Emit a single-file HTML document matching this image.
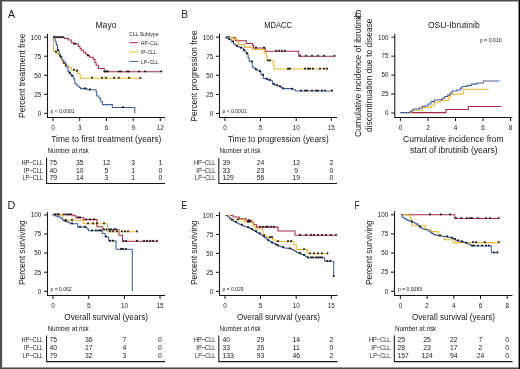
<!DOCTYPE html>
<html><head><meta charset="utf-8"><style>
html,body{margin:0;padding:0;background:#fff;}
body{width:520px;height:369px;overflow:hidden;}
svg{display:block;will-change:transform;font-family:"Liberation Sans", sans-serif;}
</style></head><body>
<svg width="520" height="369" viewBox="0 0 520 369" font-family='"Liberation Sans", sans-serif' fill="#1a1a1a">
<rect x="0" y="0" width="520" height="369" fill="#fff"/>
<text x="8" y="17.6" font-size="10.8" text-anchor="start" textLength="7" lengthAdjust="spacingAndGlyphs">A</text>
<text x="106" y="28.2" font-size="8.7" text-anchor="middle">Mayo</text>
<text x="0" y="0" font-size="8.2" text-anchor="middle" textLength="84.6" lengthAdjust="spacingAndGlyphs" transform="translate(24.7,75.7) rotate(-90)">Percent treatment free</text>
<path d="M47.5 33.8V117.5H165" fill="none" stroke="#161616" stroke-width="1.05"/>
<path d="M44.0 37.2H47.5" stroke="#111" stroke-width="1"/>
<text x="41.3" y="39.5" font-size="6.3" text-anchor="end">100</text>
<path d="M44.0 56.224999999999994H47.5" stroke="#111" stroke-width="1"/>
<text x="41.3" y="58.52499999999999" font-size="6.3" text-anchor="end">75</text>
<path d="M44.0 75.25H47.5" stroke="#111" stroke-width="1"/>
<text x="41.3" y="77.55" font-size="6.3" text-anchor="end">50</text>
<path d="M44.0 94.275H47.5" stroke="#111" stroke-width="1"/>
<text x="41.3" y="96.575" font-size="6.3" text-anchor="end">25</text>
<path d="M44.0 113.3H47.5" stroke="#111" stroke-width="1"/>
<text x="41.3" y="115.6" font-size="6.3" text-anchor="end">0</text>
<path d="M53 117.5V121.0" stroke="#111" stroke-width="1"/>
<text x="53" y="129.8" font-size="6.3" text-anchor="middle">0</text>
<path d="M79.7 117.5V121.0" stroke="#111" stroke-width="1"/>
<text x="79.7" y="129.8" font-size="6.3" text-anchor="middle">3</text>
<path d="M106.5 117.5V121.0" stroke="#111" stroke-width="1"/>
<text x="106.5" y="129.8" font-size="6.3" text-anchor="middle">6</text>
<path d="M133.2 117.5V121.0" stroke="#111" stroke-width="1"/>
<text x="133.2" y="129.8" font-size="6.3" text-anchor="middle">9</text>
<path d="M160.3 117.5V121.0" stroke="#111" stroke-width="1"/>
<text x="160.3" y="129.8" font-size="6.3" text-anchor="middle">12</text>
<text x="51.3" y="142.1" font-size="8.5" text-anchor="start" textLength="110" lengthAdjust="spacingAndGlyphs">Time to first treatment (years)</text>
<text x="47.5" y="153" font-size="6.6" text-anchor="start" textLength="41.3" lengthAdjust="spacingAndGlyphs">Number at risk</text>
<path d="M46.6 157.8V183.5H165" fill="none" stroke="#161616" stroke-width="1.05"/>
<text x="43" y="164.60000000000002" font-size="7.0" text-anchor="end" textLength="21.6" lengthAdjust="spacingAndGlyphs">HP−CLL</text>
<text x="49.5" y="164.60000000000002" font-size="6.8" text-anchor="start">75</text>
<text x="79.7" y="164.60000000000002" font-size="6.8" text-anchor="middle">35</text>
<text x="106.5" y="164.60000000000002" font-size="6.8" text-anchor="middle">12</text>
<text x="133.2" y="164.60000000000002" font-size="6.8" text-anchor="middle">3</text>
<text x="160.3" y="164.60000000000002" font-size="6.8" text-anchor="middle">1</text>
<text x="43" y="172.60000000000002" font-size="7.0" text-anchor="end" textLength="19.2" lengthAdjust="spacingAndGlyphs">IP−CLL</text>
<text x="49.5" y="172.60000000000002" font-size="6.8" text-anchor="start">40</text>
<text x="79.7" y="172.60000000000002" font-size="6.8" text-anchor="middle">10</text>
<text x="106.5" y="172.60000000000002" font-size="6.8" text-anchor="middle">5</text>
<text x="133.2" y="172.60000000000002" font-size="6.8" text-anchor="middle">1</text>
<text x="160.3" y="172.60000000000002" font-size="6.8" text-anchor="middle">0</text>
<text x="43" y="180.20000000000002" font-size="7.0" text-anchor="end" textLength="20.4" lengthAdjust="spacingAndGlyphs">LP−CLL</text>
<text x="49.5" y="180.20000000000002" font-size="6.8" text-anchor="start">79</text>
<text x="79.7" y="180.20000000000002" font-size="6.8" text-anchor="middle">14</text>
<text x="106.5" y="180.20000000000002" font-size="6.8" text-anchor="middle">3</text>
<text x="133.2" y="180.20000000000002" font-size="6.8" text-anchor="middle">1</text>
<text x="160.3" y="180.20000000000002" font-size="6.8" text-anchor="middle">0</text>
<text x="50.6" y="112.6" font-size="5.3" text-anchor="start" textLength="24" lengthAdjust="spacingAndGlyphs">p &lt; 0.0001</text>
<text x="129" y="36.2" font-size="5.6" text-anchor="start" textLength="29.5" lengthAdjust="spacingAndGlyphs">CLL Subtype</text>
<path d="M129.2 42.7H138.2" stroke="#a82a44" stroke-width="1.0"/>
<text x="141" y="44.900000000000006" font-size="6.0" text-anchor="start" textLength="18" lengthAdjust="spacingAndGlyphs">HP−CLL</text>
<path d="M129.2 52H138.2" stroke="#f0b530" stroke-width="1.0"/>
<text x="141" y="54.2" font-size="6.0" text-anchor="start" textLength="15.4" lengthAdjust="spacingAndGlyphs">IP−CLL</text>
<path d="M129.2 61.4H138.2" stroke="#41609a" stroke-width="1.0"/>
<text x="141" y="63.6" font-size="6.0" text-anchor="start" textLength="17.5" lengthAdjust="spacingAndGlyphs">LP−CLL</text>
<path d="M53 37.4H64.4V38.5H68.5V39.9H71.3V42.8H73.6V44H78.3V46.5H80V48.5H81.1V50.3H83.5V52.3H85.8V54.3H87.8V55.8H89.8V57.2H93.3V59.5H95V62.5H96.1V65.3H98.4V68.5H104.2V71.8H161.2" fill="none" stroke="#a82a44" stroke-width="1.05"/>
<path d="M55 35.9V38.199999999999996" stroke="#1a1a1a" stroke-width="0.8"/><path d="M54 37.0H56" stroke="#1a1a1a" stroke-width="1.1"/>
<path d="M57 35.9V38.199999999999996" stroke="#1a1a1a" stroke-width="0.8"/><path d="M56 37.0H58" stroke="#1a1a1a" stroke-width="1.1"/>
<path d="M59 35.9V38.199999999999996" stroke="#1a1a1a" stroke-width="0.8"/><path d="M58 37.0H60" stroke="#1a1a1a" stroke-width="1.1"/>
<path d="M61 35.9V38.199999999999996" stroke="#1a1a1a" stroke-width="0.8"/><path d="M60 37.0H62" stroke="#1a1a1a" stroke-width="1.1"/>
<path d="M63 35.9V38.199999999999996" stroke="#1a1a1a" stroke-width="0.8"/><path d="M62 37.0H64" stroke="#1a1a1a" stroke-width="1.1"/>
<path d="M75 42.5V44.8" stroke="#1a1a1a" stroke-width="0.8"/><path d="M74 43.6H76" stroke="#1a1a1a" stroke-width="1.1"/>
<path d="M88 54.3V56.599999999999994" stroke="#1a1a1a" stroke-width="0.8"/><path d="M87 55.4H89" stroke="#1a1a1a" stroke-width="1.1"/>
<path d="M104.5 70.3V72.6" stroke="#1a1a1a" stroke-width="0.8"/><path d="M103.5 71.39999999999999H105.5" stroke="#1a1a1a" stroke-width="1.1"/>
<path d="M106 70.3V72.6" stroke="#1a1a1a" stroke-width="0.8"/><path d="M105 71.39999999999999H107" stroke="#1a1a1a" stroke-width="1.1"/>
<path d="M108 70.3V72.6" stroke="#1a1a1a" stroke-width="0.8"/><path d="M107 71.39999999999999H109" stroke="#1a1a1a" stroke-width="1.1"/>
<path d="M118.8 70.3V72.6" stroke="#1a1a1a" stroke-width="0.8"/><path d="M117.8 71.39999999999999H119.8" stroke="#1a1a1a" stroke-width="1.1"/>
<path d="M120.9 70.3V72.6" stroke="#1a1a1a" stroke-width="0.8"/><path d="M119.9 71.39999999999999H121.9" stroke="#1a1a1a" stroke-width="1.1"/>
<path d="M126.9 70.3V72.6" stroke="#1a1a1a" stroke-width="0.8"/><path d="M125.9 71.39999999999999H127.9" stroke="#1a1a1a" stroke-width="1.1"/>
<path d="M128.9 70.3V72.6" stroke="#1a1a1a" stroke-width="0.8"/><path d="M127.9 71.39999999999999H129.9" stroke="#1a1a1a" stroke-width="1.1"/>
<path d="M139 70.3V72.6" stroke="#1a1a1a" stroke-width="0.8"/><path d="M138 71.39999999999999H140" stroke="#1a1a1a" stroke-width="1.1"/>
<path d="M145.1 70.3V72.6" stroke="#1a1a1a" stroke-width="0.8"/><path d="M144.1 71.39999999999999H146.1" stroke="#1a1a1a" stroke-width="1.1"/>
<path d="M161.2 70.3V72.6" stroke="#1a1a1a" stroke-width="0.8"/><path d="M160.2 71.39999999999999H162.2" stroke="#1a1a1a" stroke-width="1.1"/>
<path d="M53 37.4H53.5V51H55.2V52H57.2V54H59.2V56H61V59.5H62.7V63H65V65.5H68.5V67.3H71.3V70.2H75.4V71H77.7V73.7H80.2V78.2H140.4" fill="none" stroke="#f0b530" stroke-width="1.05"/>
<path d="M56 50.5V52.8" stroke="#1a1a1a" stroke-width="0.8"/><path d="M55 51.6H57" stroke="#1a1a1a" stroke-width="1.1"/>
<path d="M60 54.5V56.8" stroke="#1a1a1a" stroke-width="0.8"/><path d="M59 55.6H61" stroke="#1a1a1a" stroke-width="1.1"/>
<path d="M66 64.0V66.3" stroke="#1a1a1a" stroke-width="0.8"/><path d="M65 65.1H67" stroke="#1a1a1a" stroke-width="1.1"/>
<path d="M74 68.7V71.0" stroke="#1a1a1a" stroke-width="0.8"/><path d="M73 69.8H75" stroke="#1a1a1a" stroke-width="1.1"/>
<path d="M77 69.5V71.8" stroke="#1a1a1a" stroke-width="0.8"/><path d="M76 70.6H78" stroke="#1a1a1a" stroke-width="1.1"/>
<path d="M92 76.7V79.0" stroke="#1a1a1a" stroke-width="0.8"/><path d="M91 77.8H93" stroke="#1a1a1a" stroke-width="1.1"/>
<path d="M102 76.7V79.0" stroke="#1a1a1a" stroke-width="0.8"/><path d="M101 77.8H103" stroke="#1a1a1a" stroke-width="1.1"/>
<path d="M106 76.7V79.0" stroke="#1a1a1a" stroke-width="0.8"/><path d="M105 77.8H107" stroke="#1a1a1a" stroke-width="1.1"/>
<path d="M114.1 76.7V79.0" stroke="#1a1a1a" stroke-width="0.8"/><path d="M113.1 77.8H115.1" stroke="#1a1a1a" stroke-width="1.1"/>
<path d="M118.8 76.7V79.0" stroke="#1a1a1a" stroke-width="0.8"/><path d="M117.8 77.8H119.8" stroke="#1a1a1a" stroke-width="1.1"/>
<path d="M128.9 76.7V79.0" stroke="#1a1a1a" stroke-width="0.8"/><path d="M127.9 77.8H129.9" stroke="#1a1a1a" stroke-width="1.1"/>
<path d="M140.4 76.7V79.0" stroke="#1a1a1a" stroke-width="0.8"/><path d="M139.4 77.8H141.4" stroke="#1a1a1a" stroke-width="1.1"/>
<path d="M53 37.4H55.2V41.7H56.3V45.1H57.5V50.3H59.0V54.0H60.4V57.2H62.0V60.0H63.8V63.0H66.0V67.0H67.9V71.1H69.0V73.1H70.45V74.55H71.9V76.0H73.6V78.8H74.8V83.5H76.25V84.9H77.7V86.3H79.15V87.45H80.6V88.6H86.9V89.8H96.1V92H96.7V96H99V98.3H100.8V101.7H102.5V104.6H112.3V107.5H134.8V113.3H134.8" fill="none" stroke="#41609a" stroke-width="1.05"/>
<path d="M54 35.9V38.199999999999996" stroke="#1a1a1a" stroke-width="0.8"/><path d="M53 37.0H55" stroke="#1a1a1a" stroke-width="1.1"/>
<path d="M58 48.8V51.099999999999994" stroke="#1a1a1a" stroke-width="0.8"/><path d="M57 49.9H59" stroke="#1a1a1a" stroke-width="1.1"/>
<path d="M61 55.7V58.0" stroke="#1a1a1a" stroke-width="0.8"/><path d="M60 56.800000000000004H62" stroke="#1a1a1a" stroke-width="1.1"/>
<path d="M64 61.5V63.8" stroke="#1a1a1a" stroke-width="0.8"/><path d="M63 62.6H65" stroke="#1a1a1a" stroke-width="1.1"/>
<path d="M70 71.6V73.89999999999999" stroke="#1a1a1a" stroke-width="0.8"/><path d="M69 72.69999999999999H71" stroke="#1a1a1a" stroke-width="1.1"/>
<path d="M72 74.5V76.8" stroke="#1a1a1a" stroke-width="0.8"/><path d="M71 75.6H73" stroke="#1a1a1a" stroke-width="1.1"/>
<path d="M85 87.1V89.39999999999999" stroke="#1a1a1a" stroke-width="0.8"/><path d="M84 88.19999999999999H86" stroke="#1a1a1a" stroke-width="1.1"/>
<path d="M90 88.3V90.6" stroke="#1a1a1a" stroke-width="0.8"/><path d="M89 89.39999999999999H91" stroke="#1a1a1a" stroke-width="1.1"/>
<path d="M123 106.0V108.3" stroke="#1a1a1a" stroke-width="0.8"/><path d="M122 107.1H124" stroke="#1a1a1a" stroke-width="1.1"/>
<text x="181.3" y="17.8" font-size="10.8" text-anchor="start" textLength="6.8" lengthAdjust="spacingAndGlyphs">B</text>
<text x="278.1" y="28.0" font-size="8.7" text-anchor="middle" textLength="27.7" lengthAdjust="spacingAndGlyphs">MDACC</text>
<text x="0" y="0" font-size="8.2" text-anchor="middle" textLength="91" lengthAdjust="spacingAndGlyphs" transform="translate(197,76) rotate(-90)">Percent progression free</text>
<path d="M219.5 33.8V117.5H337" fill="none" stroke="#161616" stroke-width="1.05"/>
<path d="M216.0 37.2H219.5" stroke="#111" stroke-width="1"/>
<text x="213.3" y="39.5" font-size="6.3" text-anchor="end">100</text>
<path d="M216.0 56.275H219.5" stroke="#111" stroke-width="1"/>
<text x="213.3" y="58.574999999999996" font-size="6.3" text-anchor="end">75</text>
<path d="M216.0 75.35H219.5" stroke="#111" stroke-width="1"/>
<text x="213.3" y="77.64999999999999" font-size="6.3" text-anchor="end">50</text>
<path d="M216.0 94.425H219.5" stroke="#111" stroke-width="1"/>
<text x="213.3" y="96.725" font-size="6.3" text-anchor="end">25</text>
<path d="M216.0 113.5H219.5" stroke="#111" stroke-width="1"/>
<text x="213.3" y="115.8" font-size="6.3" text-anchor="end">0</text>
<path d="M225 117.5V121.0" stroke="#111" stroke-width="1"/>
<text x="225" y="129.8" font-size="6.3" text-anchor="middle">0</text>
<path d="M260.5 117.5V121.0" stroke="#111" stroke-width="1"/>
<text x="260.5" y="129.8" font-size="6.3" text-anchor="middle">5</text>
<path d="M296.2 117.5V121.0" stroke="#111" stroke-width="1"/>
<text x="296.2" y="129.8" font-size="6.3" text-anchor="middle">10</text>
<path d="M331.3 117.5V121.0" stroke="#111" stroke-width="1"/>
<text x="331.3" y="129.8" font-size="6.3" text-anchor="middle">15</text>
<text x="228" y="142.1" font-size="8.5" text-anchor="start" textLength="100.7" lengthAdjust="spacingAndGlyphs">Time to progression (years)</text>
<text x="219.5" y="153" font-size="6.6" text-anchor="start" textLength="41.3" lengthAdjust="spacingAndGlyphs">Number at risk</text>
<path d="M218.8 157.8V183.5H337" fill="none" stroke="#161616" stroke-width="1.05"/>
<text x="215.5" y="164.60000000000002" font-size="7.0" text-anchor="end" textLength="21.6" lengthAdjust="spacingAndGlyphs">HP−CLL</text>
<text x="222.5" y="164.60000000000002" font-size="6.8" text-anchor="start">39</text>
<text x="260.5" y="164.60000000000002" font-size="6.8" text-anchor="middle">24</text>
<text x="296.2" y="164.60000000000002" font-size="6.8" text-anchor="middle">12</text>
<text x="331.3" y="164.60000000000002" font-size="6.8" text-anchor="middle">2</text>
<text x="215.5" y="172.60000000000002" font-size="7.0" text-anchor="end" textLength="19.2" lengthAdjust="spacingAndGlyphs">IP−CLL</text>
<text x="222.5" y="172.60000000000002" font-size="6.8" text-anchor="start">33</text>
<text x="260.5" y="172.60000000000002" font-size="6.8" text-anchor="middle">23</text>
<text x="296.2" y="172.60000000000002" font-size="6.8" text-anchor="middle">9</text>
<text x="331.3" y="172.60000000000002" font-size="6.8" text-anchor="middle">0</text>
<text x="215.5" y="180.20000000000002" font-size="7.0" text-anchor="end" textLength="20.4" lengthAdjust="spacingAndGlyphs">LP−CLL</text>
<text x="222.5" y="180.20000000000002" font-size="6.8" text-anchor="start">129</text>
<text x="260.5" y="180.20000000000002" font-size="6.8" text-anchor="middle">56</text>
<text x="296.2" y="180.20000000000002" font-size="6.8" text-anchor="middle">19</text>
<text x="331.3" y="180.20000000000002" font-size="6.8" text-anchor="middle">0</text>
<text x="222.5" y="112.6" font-size="5.3" text-anchor="start" textLength="24" lengthAdjust="spacingAndGlyphs">p &lt; 0.0001</text>
<path d="M224.9 37.4H235.3V40.8H246.2V43.4H252.6V45.5H253.7V48H265.3V51.2H298.75V56.2H334.5" fill="none" stroke="#a82a44" stroke-width="1.05"/>
<path d="M227 35.9V38.199999999999996" stroke="#1a1a1a" stroke-width="0.8"/><path d="M226 37.0H228" stroke="#1a1a1a" stroke-width="1.1"/>
<path d="M229 35.9V38.199999999999996" stroke="#1a1a1a" stroke-width="0.8"/><path d="M228 37.0H230" stroke="#1a1a1a" stroke-width="1.1"/>
<path d="M256 46.5V48.8" stroke="#1a1a1a" stroke-width="0.8"/><path d="M255 47.6H257" stroke="#1a1a1a" stroke-width="1.1"/>
<path d="M264 46.5V48.8" stroke="#1a1a1a" stroke-width="0.8"/><path d="M263 47.6H265" stroke="#1a1a1a" stroke-width="1.1"/>
<path d="M276 49.7V52.0" stroke="#1a1a1a" stroke-width="0.8"/><path d="M275 50.800000000000004H277" stroke="#1a1a1a" stroke-width="1.1"/>
<path d="M279 49.7V52.0" stroke="#1a1a1a" stroke-width="0.8"/><path d="M278 50.800000000000004H280" stroke="#1a1a1a" stroke-width="1.1"/>
<path d="M282 49.7V52.0" stroke="#1a1a1a" stroke-width="0.8"/><path d="M281 50.800000000000004H283" stroke="#1a1a1a" stroke-width="1.1"/>
<path d="M285 49.7V52.0" stroke="#1a1a1a" stroke-width="0.8"/><path d="M284 50.800000000000004H286" stroke="#1a1a1a" stroke-width="1.1"/>
<path d="M300 54.7V57.0" stroke="#1a1a1a" stroke-width="0.8"/><path d="M299 55.800000000000004H301" stroke="#1a1a1a" stroke-width="1.1"/>
<path d="M306 54.7V57.0" stroke="#1a1a1a" stroke-width="0.8"/><path d="M305 55.800000000000004H307" stroke="#1a1a1a" stroke-width="1.1"/>
<path d="M312 54.7V57.0" stroke="#1a1a1a" stroke-width="0.8"/><path d="M311 55.800000000000004H313" stroke="#1a1a1a" stroke-width="1.1"/>
<path d="M318 54.7V57.0" stroke="#1a1a1a" stroke-width="0.8"/><path d="M317 55.800000000000004H319" stroke="#1a1a1a" stroke-width="1.1"/>
<path d="M324 54.7V57.0" stroke="#1a1a1a" stroke-width="0.8"/><path d="M323 55.800000000000004H325" stroke="#1a1a1a" stroke-width="1.1"/>
<path d="M334.5 54.7V57.0" stroke="#1a1a1a" stroke-width="0.8"/><path d="M333.5 55.800000000000004H335.5" stroke="#1a1a1a" stroke-width="1.1"/>
<path d="M224.9 37.4H233V39.3H237.6V41.7H238.7V44.5H244.5V47.1H252.2V49.4H264.1V53.2H266.4V56H267V60.7H273.3V64.1H273.9V69H327" fill="none" stroke="#f0b530" stroke-width="1.05"/>
<path d="M268 59.2V61.5" stroke="#1a1a1a" stroke-width="0.8"/><path d="M267 60.300000000000004H269" stroke="#1a1a1a" stroke-width="1.1"/>
<path d="M270 59.2V61.5" stroke="#1a1a1a" stroke-width="0.8"/><path d="M269 60.300000000000004H271" stroke="#1a1a1a" stroke-width="1.1"/>
<path d="M288 67.5V69.8" stroke="#1a1a1a" stroke-width="0.8"/><path d="M287 68.6H289" stroke="#1a1a1a" stroke-width="1.1"/>
<path d="M290 67.5V69.8" stroke="#1a1a1a" stroke-width="0.8"/><path d="M289 68.6H291" stroke="#1a1a1a" stroke-width="1.1"/>
<path d="M305 67.5V69.8" stroke="#1a1a1a" stroke-width="0.8"/><path d="M304 68.6H306" stroke="#1a1a1a" stroke-width="1.1"/>
<path d="M308 67.5V69.8" stroke="#1a1a1a" stroke-width="0.8"/><path d="M307 68.6H309" stroke="#1a1a1a" stroke-width="1.1"/>
<path d="M310 67.5V69.8" stroke="#1a1a1a" stroke-width="0.8"/><path d="M309 68.6H311" stroke="#1a1a1a" stroke-width="1.1"/>
<path d="M313 67.5V69.8" stroke="#1a1a1a" stroke-width="0.8"/><path d="M312 68.6H314" stroke="#1a1a1a" stroke-width="1.1"/>
<path d="M320 67.5V69.8" stroke="#1a1a1a" stroke-width="0.8"/><path d="M319 68.6H321" stroke="#1a1a1a" stroke-width="1.1"/>
<path d="M324 67.5V69.8" stroke="#1a1a1a" stroke-width="0.8"/><path d="M323 68.6H325" stroke="#1a1a1a" stroke-width="1.1"/>
<path d="M327 67.5V69.8" stroke="#1a1a1a" stroke-width="0.8"/><path d="M326 68.6H328" stroke="#1a1a1a" stroke-width="1.1"/>
<path d="M224.9 37.4H226.9V38.35H228.9V39.3H231.2V41.7H233.5V44.0H235.25V45.15H237.0V46.3H239.0V47.15H241.0V48.0H243.3V50.3H245.05V52.05H246.8V53.8H248.0V57.8H249.1V61.3H250.6V61.7H252.3V66.9H254.05V68.35H255.8V69.8H257.8V70.65H259.8V71.5H261.0V75.0H263.3V78.5H265.3V79.05H267.3V79.6H268.75V80.2H270.2V80.8H272.5V84.2H274.25V84.8H276.0V85.4H277.7V85.95H279.4V86.5H280.85V87.55H282.3V88.6H291.5V89H293.3V89.8H295.6V90.9H332" fill="none" stroke="#41609a" stroke-width="1.05"/>
<path d="M229 37.8V40.099999999999994" stroke="#1a1a1a" stroke-width="0.8"/><path d="M228 38.9H230" stroke="#1a1a1a" stroke-width="1.1"/>
<path d="M233 40.2V42.5" stroke="#1a1a1a" stroke-width="0.8"/><path d="M232 41.300000000000004H234" stroke="#1a1a1a" stroke-width="1.1"/>
<path d="M237 44.8V47.099999999999994" stroke="#1a1a1a" stroke-width="0.8"/><path d="M236 45.9H238" stroke="#1a1a1a" stroke-width="1.1"/>
<path d="M241 46.5V48.8" stroke="#1a1a1a" stroke-width="0.8"/><path d="M240 47.6H242" stroke="#1a1a1a" stroke-width="1.1"/>
<path d="M244 48.8V51.099999999999994" stroke="#1a1a1a" stroke-width="0.8"/><path d="M243 49.9H245" stroke="#1a1a1a" stroke-width="1.1"/>
<path d="M247 52.3V54.599999999999994" stroke="#1a1a1a" stroke-width="0.8"/><path d="M246 53.4H248" stroke="#1a1a1a" stroke-width="1.1"/>
<path d="M252 60.2V62.5" stroke="#1a1a1a" stroke-width="0.8"/><path d="M251 61.300000000000004H253" stroke="#1a1a1a" stroke-width="1.1"/>
<path d="M256 68.3V70.6" stroke="#1a1a1a" stroke-width="0.8"/><path d="M255 69.39999999999999H257" stroke="#1a1a1a" stroke-width="1.1"/>
<path d="M260 70.0V72.3" stroke="#1a1a1a" stroke-width="0.8"/><path d="M259 71.1H261" stroke="#1a1a1a" stroke-width="1.1"/>
<path d="M263 73.5V75.8" stroke="#1a1a1a" stroke-width="0.8"/><path d="M262 74.6H264" stroke="#1a1a1a" stroke-width="1.1"/>
<path d="M267 77.55V79.85" stroke="#1a1a1a" stroke-width="0.8"/><path d="M266 78.64999999999999H268" stroke="#1a1a1a" stroke-width="1.1"/>
<path d="M270 78.7V81.0" stroke="#1a1a1a" stroke-width="0.8"/><path d="M269 79.8H271" stroke="#1a1a1a" stroke-width="1.1"/>
<path d="M274 82.7V85.0" stroke="#1a1a1a" stroke-width="0.8"/><path d="M273 83.8H275" stroke="#1a1a1a" stroke-width="1.1"/>
<path d="M277 83.9V86.2" stroke="#1a1a1a" stroke-width="0.8"/><path d="M276 85.0H278" stroke="#1a1a1a" stroke-width="1.1"/>
<path d="M280 85.0V87.3" stroke="#1a1a1a" stroke-width="0.8"/><path d="M279 86.1H281" stroke="#1a1a1a" stroke-width="1.1"/>
<path d="M283 87.1V89.39999999999999" stroke="#1a1a1a" stroke-width="0.8"/><path d="M282 88.19999999999999H284" stroke="#1a1a1a" stroke-width="1.1"/>
<path d="M292 87.5V89.8" stroke="#1a1a1a" stroke-width="0.8"/><path d="M291 88.6H293" stroke="#1a1a1a" stroke-width="1.1"/>
<path d="M301 89.4V91.7" stroke="#1a1a1a" stroke-width="0.8"/><path d="M300 90.5H302" stroke="#1a1a1a" stroke-width="1.1"/>
<path d="M305 89.4V91.7" stroke="#1a1a1a" stroke-width="0.8"/><path d="M304 90.5H306" stroke="#1a1a1a" stroke-width="1.1"/>
<path d="M307 89.4V91.7" stroke="#1a1a1a" stroke-width="0.8"/><path d="M306 90.5H308" stroke="#1a1a1a" stroke-width="1.1"/>
<path d="M312 89.4V91.7" stroke="#1a1a1a" stroke-width="0.8"/><path d="M311 90.5H313" stroke="#1a1a1a" stroke-width="1.1"/>
<path d="M316 89.4V91.7" stroke="#1a1a1a" stroke-width="0.8"/><path d="M315 90.5H317" stroke="#1a1a1a" stroke-width="1.1"/>
<path d="M318 89.4V91.7" stroke="#1a1a1a" stroke-width="0.8"/><path d="M317 90.5H319" stroke="#1a1a1a" stroke-width="1.1"/>
<path d="M322 89.4V91.7" stroke="#1a1a1a" stroke-width="0.8"/><path d="M321 90.5H323" stroke="#1a1a1a" stroke-width="1.1"/>
<path d="M325 89.4V91.7" stroke="#1a1a1a" stroke-width="0.8"/><path d="M324 90.5H326" stroke="#1a1a1a" stroke-width="1.1"/>
<path d="M332 89.4V91.7" stroke="#1a1a1a" stroke-width="0.8"/><path d="M331 90.5H333" stroke="#1a1a1a" stroke-width="1.1"/>
<text x="355" y="17.6" font-size="10.8" text-anchor="start" textLength="6.5" lengthAdjust="spacingAndGlyphs">C</text>
<text x="453.8" y="28.2" font-size="8.7" text-anchor="middle" textLength="51.7" lengthAdjust="spacingAndGlyphs">OSU-Ibrutinib</text>
<text x="0" y="0" font-size="8.2" text-anchor="middle" textLength="124.5" lengthAdjust="spacingAndGlyphs" transform="translate(361.3,74.8) rotate(-90)">Cumulative incidence of ibrutinib</text>
<text x="0" y="0" font-size="8.2" text-anchor="middle" textLength="113.5" lengthAdjust="spacingAndGlyphs" transform="translate(371.8,75.2) rotate(-90)">discontinuation due to disease</text>
<path d="M394.8 33.8V117.5H512.3" fill="none" stroke="#161616" stroke-width="1.05"/>
<path d="M391.3 37.2H394.8" stroke="#111" stroke-width="1"/>
<text x="388.6" y="39.5" font-size="6.3" text-anchor="end">100</text>
<path d="M391.3 56.15H394.8" stroke="#111" stroke-width="1"/>
<text x="388.6" y="58.449999999999996" font-size="6.3" text-anchor="end">75</text>
<path d="M391.3 75.1H394.8" stroke="#111" stroke-width="1"/>
<text x="388.6" y="77.39999999999999" font-size="6.3" text-anchor="end">50</text>
<path d="M391.3 94.05H394.8" stroke="#111" stroke-width="1"/>
<text x="388.6" y="96.35" font-size="6.3" text-anchor="end">25</text>
<path d="M391.3 113.0H394.8" stroke="#111" stroke-width="1"/>
<text x="388.6" y="115.3" font-size="6.3" text-anchor="end">0</text>
<path d="M400.4 117.5V121.0" stroke="#111" stroke-width="1"/>
<text x="400.4" y="129.8" font-size="6.3" text-anchor="middle">0</text>
<path d="M427.94 117.5V121.0" stroke="#111" stroke-width="1"/>
<text x="427.94" y="129.8" font-size="6.3" text-anchor="middle">2</text>
<path d="M455.47999999999996 117.5V121.0" stroke="#111" stroke-width="1"/>
<text x="455.47999999999996" y="129.8" font-size="6.3" text-anchor="middle">4</text>
<path d="M483.02 117.5V121.0" stroke="#111" stroke-width="1"/>
<text x="483.02" y="129.8" font-size="6.3" text-anchor="middle">6</text>
<path d="M510.55999999999995 117.5V121.0" stroke="#111" stroke-width="1"/>
<text x="510.55999999999995" y="129.8" font-size="6.3" text-anchor="middle">8</text>
<text x="453.4" y="141.8" font-size="8.5" text-anchor="middle" textLength="100.7" lengthAdjust="spacingAndGlyphs">Cumulative incidence from</text>
<text x="453.8" y="152.8" font-size="8.5" text-anchor="middle" textLength="87.5" lengthAdjust="spacingAndGlyphs">start of ibrutinib (years)</text>
<text x="480" y="42.3" font-size="5.3" text-anchor="start" textLength="21.7" lengthAdjust="spacingAndGlyphs">p = 0.010</text>
<path d="M400.3 112.6H412.4V110.3H422.8V107.4H430.9V105.7H434.3V102.2H440.1V100.5H448.7V97H450.5V94.1H463.3V89.3H488.6" fill="none" stroke="#f0b530" stroke-width="1.05"/>
<path d="M411.8 112.6H445.9V109.4H468.5V106.4H501.3" fill="none" stroke="#a82a44" stroke-width="1.05"/>
<path d="M400.3 112.6H409V112.6H410.1V110.9H413V108.9H419.3V108H422.2V106.3H425.7V105.7H428V104H430.9V101.6H434.3V99.9H439V99.7H442.4V98.2H444.7V96.5H447.6V95.1H449.9V93H452.2V91H456.9V89.9H460.4V88.1H462.1V86.4H466.7V85.6H471.3V84.1H477.1V83H483.4V81H499.6" fill="none" stroke="#41609a" stroke-width="1.05"/>
<text x="7.6" y="208.7" font-size="10.8" text-anchor="start" textLength="7.8" lengthAdjust="spacingAndGlyphs">D</text>
<text x="0" y="0" font-size="8.2" text-anchor="middle" textLength="64.7" lengthAdjust="spacingAndGlyphs" transform="translate(24.7,252.7) rotate(-90)">Percent surviving</text>
<path d="M47.5 212V295.4H165" fill="none" stroke="#161616" stroke-width="1.05"/>
<path d="M44.0 214.9H47.5" stroke="#111" stroke-width="1"/>
<text x="41.3" y="217.20000000000002" font-size="6.3" text-anchor="end">100</text>
<path d="M44.0 234.0H47.5" stroke="#111" stroke-width="1"/>
<text x="41.3" y="236.3" font-size="6.3" text-anchor="end">75</text>
<path d="M44.0 253.10000000000002H47.5" stroke="#111" stroke-width="1"/>
<text x="41.3" y="255.40000000000003" font-size="6.3" text-anchor="end">50</text>
<path d="M44.0 272.2H47.5" stroke="#111" stroke-width="1"/>
<text x="41.3" y="274.5" font-size="6.3" text-anchor="end">25</text>
<path d="M44.0 291.3H47.5" stroke="#111" stroke-width="1"/>
<text x="41.3" y="293.6" font-size="6.3" text-anchor="end">0</text>
<path d="M53 295.4V298.9" stroke="#111" stroke-width="1"/>
<text x="53" y="307.7" font-size="6.3" text-anchor="middle">0</text>
<path d="M88.7 295.4V298.9" stroke="#111" stroke-width="1"/>
<text x="88.7" y="307.7" font-size="6.3" text-anchor="middle">5</text>
<path d="M124.4 295.4V298.9" stroke="#111" stroke-width="1"/>
<text x="124.4" y="307.7" font-size="6.3" text-anchor="middle">10</text>
<path d="M160 295.4V298.9" stroke="#111" stroke-width="1"/>
<text x="160" y="307.7" font-size="6.3" text-anchor="middle">15</text>
<text x="64.3" y="319.8" font-size="8.5" text-anchor="start" textLength="83.7" lengthAdjust="spacingAndGlyphs">Overall survival (years)</text>
<text x="47.5" y="331" font-size="6.6" text-anchor="start" textLength="41.3" lengthAdjust="spacingAndGlyphs">Number at risk</text>
<path d="M46.6 335.6V361.6H165" fill="none" stroke="#161616" stroke-width="1.05"/>
<text x="43" y="342.40000000000003" font-size="7.0" text-anchor="end" textLength="21.6" lengthAdjust="spacingAndGlyphs">HP−CLL</text>
<text x="49.5" y="342.40000000000003" font-size="6.8" text-anchor="start">75</text>
<text x="88.7" y="342.40000000000003" font-size="6.8" text-anchor="middle">36</text>
<text x="124.4" y="342.40000000000003" font-size="6.8" text-anchor="middle">7</text>
<text x="160" y="342.40000000000003" font-size="6.8" text-anchor="middle">0</text>
<text x="43" y="350.40000000000003" font-size="7.0" text-anchor="end" textLength="19.2" lengthAdjust="spacingAndGlyphs">IP−CLL</text>
<text x="49.5" y="350.40000000000003" font-size="6.8" text-anchor="start">40</text>
<text x="88.7" y="350.40000000000003" font-size="6.8" text-anchor="middle">17</text>
<text x="124.4" y="350.40000000000003" font-size="6.8" text-anchor="middle">4</text>
<text x="160" y="350.40000000000003" font-size="6.8" text-anchor="middle">0</text>
<text x="43" y="358.0" font-size="7.0" text-anchor="end" textLength="20.4" lengthAdjust="spacingAndGlyphs">LP−CLL</text>
<text x="49.5" y="358.0" font-size="6.8" text-anchor="start">79</text>
<text x="88.7" y="358.0" font-size="6.8" text-anchor="middle">32</text>
<text x="124.4" y="358.0" font-size="6.8" text-anchor="middle">3</text>
<text x="160" y="358.0" font-size="6.8" text-anchor="middle">0</text>
<text x="50.6" y="290.9" font-size="5.3" text-anchor="start" textLength="21" lengthAdjust="spacingAndGlyphs">p = 0.062</text>
<path d="M52.3 214.8H73V215.8H75.9V217.7H83.6V219.6H97V226.8H102.8V229.7H119V235.2H122.5V241.3H157.1" fill="none" stroke="#a82a44" stroke-width="1.05"/>
<path d="M56 213.3V215.60000000000002" stroke="#1a1a1a" stroke-width="0.8"/><path d="M55 214.4H57" stroke="#1a1a1a" stroke-width="1.1"/>
<path d="M59 213.3V215.60000000000002" stroke="#1a1a1a" stroke-width="0.8"/><path d="M58 214.4H60" stroke="#1a1a1a" stroke-width="1.1"/>
<path d="M64 213.3V215.60000000000002" stroke="#1a1a1a" stroke-width="0.8"/><path d="M63 214.4H65" stroke="#1a1a1a" stroke-width="1.1"/>
<path d="M67 213.3V215.60000000000002" stroke="#1a1a1a" stroke-width="0.8"/><path d="M66 214.4H68" stroke="#1a1a1a" stroke-width="1.1"/>
<path d="M69 213.3V215.60000000000002" stroke="#1a1a1a" stroke-width="0.8"/><path d="M68 214.4H70" stroke="#1a1a1a" stroke-width="1.1"/>
<path d="M71 213.3V215.60000000000002" stroke="#1a1a1a" stroke-width="0.8"/><path d="M70 214.4H72" stroke="#1a1a1a" stroke-width="1.1"/>
<path d="M78 216.2V218.5" stroke="#1a1a1a" stroke-width="0.8"/><path d="M77 217.29999999999998H79" stroke="#1a1a1a" stroke-width="1.1"/>
<path d="M80 216.2V218.5" stroke="#1a1a1a" stroke-width="0.8"/><path d="M79 217.29999999999998H81" stroke="#1a1a1a" stroke-width="1.1"/>
<path d="M86 218.1V220.4" stroke="#1a1a1a" stroke-width="0.8"/><path d="M85 219.2H87" stroke="#1a1a1a" stroke-width="1.1"/>
<path d="M90 218.1V220.4" stroke="#1a1a1a" stroke-width="0.8"/><path d="M89 219.2H91" stroke="#1a1a1a" stroke-width="1.1"/>
<path d="M94 218.1V220.4" stroke="#1a1a1a" stroke-width="0.8"/><path d="M93 219.2H95" stroke="#1a1a1a" stroke-width="1.1"/>
<path d="M104 228.2V230.5" stroke="#1a1a1a" stroke-width="0.8"/><path d="M103 229.29999999999998H105" stroke="#1a1a1a" stroke-width="1.1"/>
<path d="M107 228.2V230.5" stroke="#1a1a1a" stroke-width="0.8"/><path d="M106 229.29999999999998H108" stroke="#1a1a1a" stroke-width="1.1"/>
<path d="M109 228.2V230.5" stroke="#1a1a1a" stroke-width="0.8"/><path d="M108 229.29999999999998H110" stroke="#1a1a1a" stroke-width="1.1"/>
<path d="M111 228.2V230.5" stroke="#1a1a1a" stroke-width="0.8"/><path d="M110 229.29999999999998H112" stroke="#1a1a1a" stroke-width="1.1"/>
<path d="M114 228.2V230.5" stroke="#1a1a1a" stroke-width="0.8"/><path d="M113 229.29999999999998H115" stroke="#1a1a1a" stroke-width="1.1"/>
<path d="M116 228.2V230.5" stroke="#1a1a1a" stroke-width="0.8"/><path d="M115 229.29999999999998H117" stroke="#1a1a1a" stroke-width="1.1"/>
<path d="M123.5 239.8V242.10000000000002" stroke="#1a1a1a" stroke-width="0.8"/><path d="M122.5 240.9H124.5" stroke="#1a1a1a" stroke-width="1.1"/>
<path d="M126 239.8V242.10000000000002" stroke="#1a1a1a" stroke-width="0.8"/><path d="M125 240.9H127" stroke="#1a1a1a" stroke-width="1.1"/>
<path d="M137 239.8V242.10000000000002" stroke="#1a1a1a" stroke-width="0.8"/><path d="M136 240.9H138" stroke="#1a1a1a" stroke-width="1.1"/>
<path d="M144 239.8V242.10000000000002" stroke="#1a1a1a" stroke-width="0.8"/><path d="M143 240.9H145" stroke="#1a1a1a" stroke-width="1.1"/>
<path d="M147 239.8V242.10000000000002" stroke="#1a1a1a" stroke-width="0.8"/><path d="M146 240.9H148" stroke="#1a1a1a" stroke-width="1.1"/>
<path d="M150 239.8V242.10000000000002" stroke="#1a1a1a" stroke-width="0.8"/><path d="M149 240.9H151" stroke="#1a1a1a" stroke-width="1.1"/>
<path d="M153 239.8V242.10000000000002" stroke="#1a1a1a" stroke-width="0.8"/><path d="M152 240.9H154" stroke="#1a1a1a" stroke-width="1.1"/>
<path d="M157.1 239.8V242.10000000000002" stroke="#1a1a1a" stroke-width="0.8"/><path d="M156.1 240.9H158.1" stroke="#1a1a1a" stroke-width="1.1"/>
<path d="M52.3 214.8H62.7V220.3H83.4V223.7H107.5V231.7H136.9" fill="none" stroke="#f0b530" stroke-width="1.05"/>
<path d="M55 213.3V215.60000000000002" stroke="#1a1a1a" stroke-width="0.8"/><path d="M54 214.4H56" stroke="#1a1a1a" stroke-width="1.1"/>
<path d="M58 213.3V215.60000000000002" stroke="#1a1a1a" stroke-width="0.8"/><path d="M57 214.4H59" stroke="#1a1a1a" stroke-width="1.1"/>
<path d="M66 218.8V221.10000000000002" stroke="#1a1a1a" stroke-width="0.8"/><path d="M65 219.9H67" stroke="#1a1a1a" stroke-width="1.1"/>
<path d="M72 218.8V221.10000000000002" stroke="#1a1a1a" stroke-width="0.8"/><path d="M71 219.9H73" stroke="#1a1a1a" stroke-width="1.1"/>
<path d="M88 222.2V224.5" stroke="#1a1a1a" stroke-width="0.8"/><path d="M87 223.29999999999998H89" stroke="#1a1a1a" stroke-width="1.1"/>
<path d="M93 222.2V224.5" stroke="#1a1a1a" stroke-width="0.8"/><path d="M92 223.29999999999998H94" stroke="#1a1a1a" stroke-width="1.1"/>
<path d="M97 222.2V224.5" stroke="#1a1a1a" stroke-width="0.8"/><path d="M96 223.29999999999998H98" stroke="#1a1a1a" stroke-width="1.1"/>
<path d="M104 222.2V224.5" stroke="#1a1a1a" stroke-width="0.8"/><path d="M103 223.29999999999998H105" stroke="#1a1a1a" stroke-width="1.1"/>
<path d="M110 230.2V232.5" stroke="#1a1a1a" stroke-width="0.8"/><path d="M109 231.29999999999998H111" stroke="#1a1a1a" stroke-width="1.1"/>
<path d="M113 230.2V232.5" stroke="#1a1a1a" stroke-width="0.8"/><path d="M112 231.29999999999998H114" stroke="#1a1a1a" stroke-width="1.1"/>
<path d="M117 230.2V232.5" stroke="#1a1a1a" stroke-width="0.8"/><path d="M116 231.29999999999998H118" stroke="#1a1a1a" stroke-width="1.1"/>
<path d="M122 230.2V232.5" stroke="#1a1a1a" stroke-width="0.8"/><path d="M121 231.29999999999998H123" stroke="#1a1a1a" stroke-width="1.1"/>
<path d="M125 230.2V232.5" stroke="#1a1a1a" stroke-width="0.8"/><path d="M124 231.29999999999998H126" stroke="#1a1a1a" stroke-width="1.1"/>
<path d="M128 230.2V232.5" stroke="#1a1a1a" stroke-width="0.8"/><path d="M127 231.29999999999998H129" stroke="#1a1a1a" stroke-width="1.1"/>
<path d="M136.9 230.2V232.5" stroke="#1a1a1a" stroke-width="0.8"/><path d="M135.9 231.29999999999998H137.9" stroke="#1a1a1a" stroke-width="1.1"/>
<path d="M52.3 214.8H54.6V215.8H56.13V216.27H57.67V216.73H59.2V217.2H60.95V218.8H62.7V220.4H64.23V220.97H65.77V221.53H67.3V222.1H69.05V222.95H70.8V223.8H77.7V227.1H86.9V229H88.6V230.8H102.3V233.5H105.2V236.9H108.7V241H116.1V249.3H132.3V291.3H132.3" fill="none" stroke="#41609a" stroke-width="1.05"/>
<path d="M65 219.47V221.77" stroke="#1a1a1a" stroke-width="0.8"/><path d="M64 220.57H66" stroke="#1a1a1a" stroke-width="1.1"/>
<path d="M72 222.3V224.60000000000002" stroke="#1a1a1a" stroke-width="0.8"/><path d="M71 223.4H73" stroke="#1a1a1a" stroke-width="1.1"/>
<path d="M80 225.6V227.9" stroke="#1a1a1a" stroke-width="0.8"/><path d="M79 226.7H81" stroke="#1a1a1a" stroke-width="1.1"/>
<path d="M85 225.6V227.9" stroke="#1a1a1a" stroke-width="0.8"/><path d="M84 226.7H86" stroke="#1a1a1a" stroke-width="1.1"/>
<path d="M92 229.3V231.60000000000002" stroke="#1a1a1a" stroke-width="0.8"/><path d="M91 230.4H93" stroke="#1a1a1a" stroke-width="1.1"/>
<path d="M96 229.3V231.60000000000002" stroke="#1a1a1a" stroke-width="0.8"/><path d="M95 230.4H97" stroke="#1a1a1a" stroke-width="1.1"/>
<path d="M99 229.3V231.60000000000002" stroke="#1a1a1a" stroke-width="0.8"/><path d="M98 230.4H100" stroke="#1a1a1a" stroke-width="1.1"/>
<path d="M101 229.3V231.60000000000002" stroke="#1a1a1a" stroke-width="0.8"/><path d="M100 230.4H102" stroke="#1a1a1a" stroke-width="1.1"/>
<path d="M106 235.4V237.70000000000002" stroke="#1a1a1a" stroke-width="0.8"/><path d="M105 236.5H107" stroke="#1a1a1a" stroke-width="1.1"/>
<path d="M110 239.5V241.8" stroke="#1a1a1a" stroke-width="0.8"/><path d="M109 240.6H111" stroke="#1a1a1a" stroke-width="1.1"/>
<path d="M113 239.5V241.8" stroke="#1a1a1a" stroke-width="0.8"/><path d="M112 240.6H114" stroke="#1a1a1a" stroke-width="1.1"/>
<path d="M121 247.8V250.10000000000002" stroke="#1a1a1a" stroke-width="0.8"/><path d="M120 248.9H122" stroke="#1a1a1a" stroke-width="1.1"/>
<path d="M123 247.8V250.10000000000002" stroke="#1a1a1a" stroke-width="0.8"/><path d="M122 248.9H124" stroke="#1a1a1a" stroke-width="1.1"/>
<path d="M126 247.8V250.10000000000002" stroke="#1a1a1a" stroke-width="0.8"/><path d="M125 248.9H127" stroke="#1a1a1a" stroke-width="1.1"/>
<text x="181.3" y="208.7" font-size="10.8" text-anchor="start" textLength="6" lengthAdjust="spacingAndGlyphs">E</text>
<text x="0" y="0" font-size="8.2" text-anchor="middle" textLength="64.7" lengthAdjust="spacingAndGlyphs" transform="translate(196.5,252.7) rotate(-90)">Percent surviving</text>
<path d="M219.5 212V295.4H337.5" fill="none" stroke="#161616" stroke-width="1.05"/>
<path d="M216.0 215.4H219.5" stroke="#111" stroke-width="1"/>
<text x="213.3" y="217.70000000000002" font-size="6.3" text-anchor="end">100</text>
<path d="M216.0 234.375H219.5" stroke="#111" stroke-width="1"/>
<text x="213.3" y="236.675" font-size="6.3" text-anchor="end">75</text>
<path d="M216.0 253.35000000000002H219.5" stroke="#111" stroke-width="1"/>
<text x="213.3" y="255.65000000000003" font-size="6.3" text-anchor="end">50</text>
<path d="M216.0 272.325H219.5" stroke="#111" stroke-width="1"/>
<text x="213.3" y="274.625" font-size="6.3" text-anchor="end">25</text>
<path d="M216.0 291.3H219.5" stroke="#111" stroke-width="1"/>
<text x="213.3" y="293.6" font-size="6.3" text-anchor="end">0</text>
<path d="M225 295.4V298.9" stroke="#111" stroke-width="1"/>
<text x="225" y="307.7" font-size="6.3" text-anchor="middle">0</text>
<path d="M260.5 295.4V298.9" stroke="#111" stroke-width="1"/>
<text x="260.5" y="307.7" font-size="6.3" text-anchor="middle">5</text>
<path d="M296.2 295.4V298.9" stroke="#111" stroke-width="1"/>
<text x="296.2" y="307.7" font-size="6.3" text-anchor="middle">10</text>
<path d="M331.3 295.4V298.9" stroke="#111" stroke-width="1"/>
<text x="331.3" y="307.7" font-size="6.3" text-anchor="middle">15</text>
<text x="237" y="319.8" font-size="8.5" text-anchor="start" textLength="83" lengthAdjust="spacingAndGlyphs">Overall survival (years)</text>
<text x="219.5" y="331" font-size="6.6" text-anchor="start" textLength="41.3" lengthAdjust="spacingAndGlyphs">Number at risk</text>
<path d="M218.8 335.6V361.6H337.5" fill="none" stroke="#161616" stroke-width="1.05"/>
<text x="215.5" y="342.40000000000003" font-size="7.0" text-anchor="end" textLength="21.6" lengthAdjust="spacingAndGlyphs">HP−CLL</text>
<text x="222.5" y="342.40000000000003" font-size="6.8" text-anchor="start">40</text>
<text x="260.5" y="342.40000000000003" font-size="6.8" text-anchor="middle">29</text>
<text x="296.2" y="342.40000000000003" font-size="6.8" text-anchor="middle">14</text>
<text x="331.3" y="342.40000000000003" font-size="6.8" text-anchor="middle">2</text>
<text x="215.5" y="350.40000000000003" font-size="7.0" text-anchor="end" textLength="19.2" lengthAdjust="spacingAndGlyphs">IP−CLL</text>
<text x="222.5" y="350.40000000000003" font-size="6.8" text-anchor="start">33</text>
<text x="260.5" y="350.40000000000003" font-size="6.8" text-anchor="middle">26</text>
<text x="296.2" y="350.40000000000003" font-size="6.8" text-anchor="middle">11</text>
<text x="331.3" y="350.40000000000003" font-size="6.8" text-anchor="middle">0</text>
<text x="215.5" y="358.0" font-size="7.0" text-anchor="end" textLength="20.4" lengthAdjust="spacingAndGlyphs">LP−CLL</text>
<text x="222.5" y="358.0" font-size="6.8" text-anchor="start">133</text>
<text x="260.5" y="358.0" font-size="6.8" text-anchor="middle">93</text>
<text x="296.2" y="358.0" font-size="6.8" text-anchor="middle">46</text>
<text x="331.3" y="358.0" font-size="6.8" text-anchor="middle">2</text>
<text x="222.5" y="290.9" font-size="5.3" text-anchor="start" textLength="21" lengthAdjust="spacingAndGlyphs">p = 0.029</text>
<path d="M225.5 215.4H233V217H239.3V218.8H246.2V220.5H252V222.5H253.7V224.8H256.6V227.1H277.9V231H295V235.3H336.1" fill="none" stroke="#a82a44" stroke-width="1.05"/>
<path d="M249 219.0V221.3" stroke="#1a1a1a" stroke-width="0.8"/><path d="M248 220.1H250" stroke="#1a1a1a" stroke-width="1.1"/>
<path d="M260 225.6V227.9" stroke="#1a1a1a" stroke-width="0.8"/><path d="M259 226.7H261" stroke="#1a1a1a" stroke-width="1.1"/>
<path d="M263 225.6V227.9" stroke="#1a1a1a" stroke-width="0.8"/><path d="M262 226.7H264" stroke="#1a1a1a" stroke-width="1.1"/>
<path d="M266 225.6V227.9" stroke="#1a1a1a" stroke-width="0.8"/><path d="M265 226.7H267" stroke="#1a1a1a" stroke-width="1.1"/>
<path d="M268 225.6V227.9" stroke="#1a1a1a" stroke-width="0.8"/><path d="M267 226.7H269" stroke="#1a1a1a" stroke-width="1.1"/>
<path d="M271 225.6V227.9" stroke="#1a1a1a" stroke-width="0.8"/><path d="M270 226.7H272" stroke="#1a1a1a" stroke-width="1.1"/>
<path d="M274 225.6V227.9" stroke="#1a1a1a" stroke-width="0.8"/><path d="M273 226.7H275" stroke="#1a1a1a" stroke-width="1.1"/>
<path d="M300 233.8V236.10000000000002" stroke="#1a1a1a" stroke-width="0.8"/><path d="M299 234.9H301" stroke="#1a1a1a" stroke-width="1.1"/>
<path d="M306 233.8V236.10000000000002" stroke="#1a1a1a" stroke-width="0.8"/><path d="M305 234.9H307" stroke="#1a1a1a" stroke-width="1.1"/>
<path d="M311 233.8V236.10000000000002" stroke="#1a1a1a" stroke-width="0.8"/><path d="M310 234.9H312" stroke="#1a1a1a" stroke-width="1.1"/>
<path d="M314 233.8V236.10000000000002" stroke="#1a1a1a" stroke-width="0.8"/><path d="M313 234.9H315" stroke="#1a1a1a" stroke-width="1.1"/>
<path d="M318 233.8V236.10000000000002" stroke="#1a1a1a" stroke-width="0.8"/><path d="M317 234.9H319" stroke="#1a1a1a" stroke-width="1.1"/>
<path d="M322 233.8V236.10000000000002" stroke="#1a1a1a" stroke-width="0.8"/><path d="M321 234.9H323" stroke="#1a1a1a" stroke-width="1.1"/>
<path d="M326 233.8V236.10000000000002" stroke="#1a1a1a" stroke-width="0.8"/><path d="M325 234.9H327" stroke="#1a1a1a" stroke-width="1.1"/>
<path d="M331 233.8V236.10000000000002" stroke="#1a1a1a" stroke-width="0.8"/><path d="M330 234.9H332" stroke="#1a1a1a" stroke-width="1.1"/>
<path d="M336.1 233.8V236.10000000000002" stroke="#1a1a1a" stroke-width="0.8"/><path d="M335.1 234.9H337.1" stroke="#1a1a1a" stroke-width="1.1"/>
<path d="M225.5 215.4H230.1V219.7H244.5V222H253.1V226H254.9V228.9H262.9V234.6H265.3V236.4H268.1V237.5H272.7V239.8H275V241.5H293.8V244.8H296.3V249.6H307.6V253.7H327.5" fill="none" stroke="#f0b530" stroke-width="1.05"/>
<path d="M238 218.2V220.5" stroke="#1a1a1a" stroke-width="0.8"/><path d="M237 219.29999999999998H239" stroke="#1a1a1a" stroke-width="1.1"/>
<path d="M248 220.5V222.8" stroke="#1a1a1a" stroke-width="0.8"/><path d="M247 221.6H249" stroke="#1a1a1a" stroke-width="1.1"/>
<path d="M250 220.5V222.8" stroke="#1a1a1a" stroke-width="0.8"/><path d="M249 221.6H251" stroke="#1a1a1a" stroke-width="1.1"/>
<path d="M270 236.0V238.3" stroke="#1a1a1a" stroke-width="0.8"/><path d="M269 237.1H271" stroke="#1a1a1a" stroke-width="1.1"/>
<path d="M272 236.0V238.3" stroke="#1a1a1a" stroke-width="0.8"/><path d="M271 237.1H273" stroke="#1a1a1a" stroke-width="1.1"/>
<path d="M278 240.0V242.3" stroke="#1a1a1a" stroke-width="0.8"/><path d="M277 241.1H279" stroke="#1a1a1a" stroke-width="1.1"/>
<path d="M288 240.0V242.3" stroke="#1a1a1a" stroke-width="0.8"/><path d="M287 241.1H289" stroke="#1a1a1a" stroke-width="1.1"/>
<path d="M291 240.0V242.3" stroke="#1a1a1a" stroke-width="0.8"/><path d="M290 241.1H292" stroke="#1a1a1a" stroke-width="1.1"/>
<path d="M304 248.1V250.4" stroke="#1a1a1a" stroke-width="0.8"/><path d="M303 249.2H305" stroke="#1a1a1a" stroke-width="1.1"/>
<path d="M310 252.2V254.5" stroke="#1a1a1a" stroke-width="0.8"/><path d="M309 253.29999999999998H311" stroke="#1a1a1a" stroke-width="1.1"/>
<path d="M314 252.2V254.5" stroke="#1a1a1a" stroke-width="0.8"/><path d="M313 253.29999999999998H315" stroke="#1a1a1a" stroke-width="1.1"/>
<path d="M318 252.2V254.5" stroke="#1a1a1a" stroke-width="0.8"/><path d="M317 253.29999999999998H319" stroke="#1a1a1a" stroke-width="1.1"/>
<path d="M322 252.2V254.5" stroke="#1a1a1a" stroke-width="0.8"/><path d="M321 253.29999999999998H323" stroke="#1a1a1a" stroke-width="1.1"/>
<path d="M327.5 252.2V254.5" stroke="#1a1a1a" stroke-width="0.8"/><path d="M326.5 253.29999999999998H328.5" stroke="#1a1a1a" stroke-width="1.1"/>
<path d="M225.5 215.4H227.5V216.9H229.5V218.4H231.5V219.9H233.5V221.4H235.36V222.32H237.22V223.24H239.08V224.16H240.94V225.08H242.8V226.0H244.53V226.5H246.27V227.0H248.0V227.5H249.72V228.5H251.44V229.5H253.16V230.5H254.88V231.5H256.6V232.5H258.53V233.67H260.47V234.83H262.4V236.0H264.25V237.45H266.1V238.9H267.95V240.35H269.8V241.8H271.73V242.78H273.65V243.75H275.57V244.72H277.5V245.7H279.18V246.27H280.85V246.85H282.52V247.43H284.2V248.0H286.13V248.2H288.07V248.4H290.0V248.6H291.68V249.55H293.35V250.5H295.02V251.45H296.7V252.4H298.4V253.12H300.1V253.85H301.8V254.58H303.5V255.3H305.4V256.5H307.3V257.7H324.7V261.3H333.7V276.5H333.7" fill="none" stroke="#41609a" stroke-width="1.05"/>
<path d="M232 218.4V220.70000000000002" stroke="#1a1a1a" stroke-width="0.8"/><path d="M231 219.5H233" stroke="#1a1a1a" stroke-width="1.1"/>
<path d="M236 220.82V223.12" stroke="#1a1a1a" stroke-width="0.8"/><path d="M235 221.92H237" stroke="#1a1a1a" stroke-width="1.1"/>
<path d="M242 223.58V225.88000000000002" stroke="#1a1a1a" stroke-width="0.8"/><path d="M241 224.68H243" stroke="#1a1a1a" stroke-width="1.1"/>
<path d="M248 226.0V228.3" stroke="#1a1a1a" stroke-width="0.8"/><path d="M247 227.1H249" stroke="#1a1a1a" stroke-width="1.1"/>
<path d="M252 228.0V230.3" stroke="#1a1a1a" stroke-width="0.8"/><path d="M251 229.1H253" stroke="#1a1a1a" stroke-width="1.1"/>
<path d="M256 230.0V232.3" stroke="#1a1a1a" stroke-width="0.8"/><path d="M255 231.1H257" stroke="#1a1a1a" stroke-width="1.1"/>
<path d="M260 232.17V234.47" stroke="#1a1a1a" stroke-width="0.8"/><path d="M259 233.26999999999998H261" stroke="#1a1a1a" stroke-width="1.1"/>
<path d="M264 234.5V236.8" stroke="#1a1a1a" stroke-width="0.8"/><path d="M263 235.6H265" stroke="#1a1a1a" stroke-width="1.1"/>
<path d="M268 238.85V241.15" stroke="#1a1a1a" stroke-width="0.8"/><path d="M267 239.95H269" stroke="#1a1a1a" stroke-width="1.1"/>
<path d="M272 241.28V243.58" stroke="#1a1a1a" stroke-width="0.8"/><path d="M271 242.38H273" stroke="#1a1a1a" stroke-width="1.1"/>
<path d="M276 243.22V245.52" stroke="#1a1a1a" stroke-width="0.8"/><path d="M275 244.32H277" stroke="#1a1a1a" stroke-width="1.1"/>
<path d="M278 244.2V246.5" stroke="#1a1a1a" stroke-width="0.8"/><path d="M277 245.29999999999998H279" stroke="#1a1a1a" stroke-width="1.1"/>
<path d="M283 245.93V248.23000000000002" stroke="#1a1a1a" stroke-width="0.8"/><path d="M282 247.03H284" stroke="#1a1a1a" stroke-width="1.1"/>
<path d="M290 247.1V249.4" stroke="#1a1a1a" stroke-width="0.8"/><path d="M289 248.2H291" stroke="#1a1a1a" stroke-width="1.1"/>
<path d="M300 251.62V253.92000000000002" stroke="#1a1a1a" stroke-width="0.8"/><path d="M299 252.72H301" stroke="#1a1a1a" stroke-width="1.1"/>
<path d="M304 253.8V256.1" stroke="#1a1a1a" stroke-width="0.8"/><path d="M303 254.9H305" stroke="#1a1a1a" stroke-width="1.1"/>
<path d="M308 256.2V258.5" stroke="#1a1a1a" stroke-width="0.8"/><path d="M307 257.3H309" stroke="#1a1a1a" stroke-width="1.1"/>
<path d="M311 256.2V258.5" stroke="#1a1a1a" stroke-width="0.8"/><path d="M310 257.3H312" stroke="#1a1a1a" stroke-width="1.1"/>
<path d="M313 256.2V258.5" stroke="#1a1a1a" stroke-width="0.8"/><path d="M312 257.3H314" stroke="#1a1a1a" stroke-width="1.1"/>
<path d="M316 256.2V258.5" stroke="#1a1a1a" stroke-width="0.8"/><path d="M315 257.3H317" stroke="#1a1a1a" stroke-width="1.1"/>
<path d="M318 256.2V258.5" stroke="#1a1a1a" stroke-width="0.8"/><path d="M317 257.3H319" stroke="#1a1a1a" stroke-width="1.1"/>
<path d="M320 256.2V258.5" stroke="#1a1a1a" stroke-width="0.8"/><path d="M319 257.3H321" stroke="#1a1a1a" stroke-width="1.1"/>
<path d="M322 256.2V258.5" stroke="#1a1a1a" stroke-width="0.8"/><path d="M321 257.3H323" stroke="#1a1a1a" stroke-width="1.1"/>
<path d="M327 259.8V262.1" stroke="#1a1a1a" stroke-width="0.8"/><path d="M326 260.90000000000003H328" stroke="#1a1a1a" stroke-width="1.1"/>
<path d="M330 259.8V262.1" stroke="#1a1a1a" stroke-width="0.8"/><path d="M329 260.90000000000003H331" stroke="#1a1a1a" stroke-width="1.1"/>
<path d="M333.7 275.0V277.3" stroke="#1a1a1a" stroke-width="0.8"/><path d="M332.7 276.1H334.7" stroke="#1a1a1a" stroke-width="1.1"/>
<text x="354.5" y="208.7" font-size="10.8" text-anchor="start" textLength="5.2" lengthAdjust="spacingAndGlyphs">F</text>
<text x="0" y="0" font-size="8.2" text-anchor="middle" textLength="64.7" lengthAdjust="spacingAndGlyphs" transform="translate(371.5,252.7) rotate(-90)">Percent surviving</text>
<path d="M394.5 211.3V295.4H512.5" fill="none" stroke="#161616" stroke-width="1.05"/>
<path d="M391.0 214.8H394.5" stroke="#111" stroke-width="1"/>
<text x="388.3" y="217.10000000000002" font-size="6.3" text-anchor="end">100</text>
<path d="M391.0 233.925H394.5" stroke="#111" stroke-width="1"/>
<text x="388.3" y="236.22500000000002" font-size="6.3" text-anchor="end">75</text>
<path d="M391.0 253.05H394.5" stroke="#111" stroke-width="1"/>
<text x="388.3" y="255.35000000000002" font-size="6.3" text-anchor="end">50</text>
<path d="M391.0 272.175H394.5" stroke="#111" stroke-width="1"/>
<text x="388.3" y="274.475" font-size="6.3" text-anchor="end">25</text>
<path d="M391.0 291.3H394.5" stroke="#111" stroke-width="1"/>
<text x="388.3" y="293.6" font-size="6.3" text-anchor="end">0</text>
<path d="M400.4 295.4V298.9" stroke="#111" stroke-width="1"/>
<text x="400.4" y="307.7" font-size="6.3" text-anchor="middle">0</text>
<path d="M427.09999999999997 295.4V298.9" stroke="#111" stroke-width="1"/>
<text x="427.09999999999997" y="307.7" font-size="6.3" text-anchor="middle">2</text>
<path d="M453.79999999999995 295.4V298.9" stroke="#111" stroke-width="1"/>
<text x="453.79999999999995" y="307.7" font-size="6.3" text-anchor="middle">4</text>
<path d="M480.5 295.4V298.9" stroke="#111" stroke-width="1"/>
<text x="480.5" y="307.7" font-size="6.3" text-anchor="middle">6</text>
<path d="M507.2 295.4V298.9" stroke="#111" stroke-width="1"/>
<text x="507.2" y="307.7" font-size="6.3" text-anchor="middle">8</text>
<text x="412" y="319.8" font-size="8.5" text-anchor="start" textLength="83" lengthAdjust="spacingAndGlyphs">Overall survival (years)</text>
<text x="395" y="331" font-size="6.6" text-anchor="start" textLength="41.3" lengthAdjust="spacingAndGlyphs">Number at risk</text>
<path d="M394.3 335.6V361.6H512.5" fill="none" stroke="#161616" stroke-width="1.05"/>
<text x="390.5" y="342.40000000000003" font-size="7.0" text-anchor="end" textLength="21.6" lengthAdjust="spacingAndGlyphs">HP−CLL</text>
<text x="397.5" y="342.40000000000003" font-size="6.8" text-anchor="start">25</text>
<text x="427.1" y="342.40000000000003" font-size="6.8" text-anchor="middle">25</text>
<text x="453.8" y="342.40000000000003" font-size="6.8" text-anchor="middle">22</text>
<text x="480.5" y="342.40000000000003" font-size="6.8" text-anchor="middle">7</text>
<text x="507.2" y="342.40000000000003" font-size="6.8" text-anchor="middle">0</text>
<text x="390.5" y="350.40000000000003" font-size="7.0" text-anchor="end" textLength="19.2" lengthAdjust="spacingAndGlyphs">IP−CLL</text>
<text x="397.5" y="350.40000000000003" font-size="6.8" text-anchor="start">28</text>
<text x="427.1" y="350.40000000000003" font-size="6.8" text-anchor="middle">23</text>
<text x="453.8" y="350.40000000000003" font-size="6.8" text-anchor="middle">17</text>
<text x="480.5" y="350.40000000000003" font-size="6.8" text-anchor="middle">2</text>
<text x="507.2" y="350.40000000000003" font-size="6.8" text-anchor="middle">0</text>
<text x="390.5" y="358.0" font-size="7.0" text-anchor="end" textLength="20.4" lengthAdjust="spacingAndGlyphs">LP−CLL</text>
<text x="397.5" y="358.0" font-size="6.8" text-anchor="start">157</text>
<text x="427.1" y="358.0" font-size="6.8" text-anchor="middle">124</text>
<text x="453.8" y="358.0" font-size="6.8" text-anchor="middle">94</text>
<text x="480.5" y="358.0" font-size="6.8" text-anchor="middle">24</text>
<text x="507.2" y="358.0" font-size="6.8" text-anchor="middle">0</text>
<text x="398" y="290.9" font-size="5.3" text-anchor="start" textLength="24" lengthAdjust="spacingAndGlyphs">p = 0.0083</text>
<path d="M400.9 214.8H454.7V218.4H498.8" fill="none" stroke="#a82a44" stroke-width="1.05"/>
<path d="M430 213.3V215.60000000000002" stroke="#1a1a1a" stroke-width="0.8"/><path d="M429 214.4H431" stroke="#1a1a1a" stroke-width="1.1"/>
<path d="M441 213.3V215.60000000000002" stroke="#1a1a1a" stroke-width="0.8"/><path d="M440 214.4H442" stroke="#1a1a1a" stroke-width="1.1"/>
<path d="M450 213.3V215.60000000000002" stroke="#1a1a1a" stroke-width="0.8"/><path d="M449 214.4H451" stroke="#1a1a1a" stroke-width="1.1"/>
<path d="M456 216.9V219.20000000000002" stroke="#1a1a1a" stroke-width="0.8"/><path d="M455 218.0H457" stroke="#1a1a1a" stroke-width="1.1"/>
<path d="M461 216.9V219.20000000000002" stroke="#1a1a1a" stroke-width="0.8"/><path d="M460 218.0H462" stroke="#1a1a1a" stroke-width="1.1"/>
<path d="M467 216.9V219.20000000000002" stroke="#1a1a1a" stroke-width="0.8"/><path d="M466 218.0H468" stroke="#1a1a1a" stroke-width="1.1"/>
<path d="M470 216.9V219.20000000000002" stroke="#1a1a1a" stroke-width="0.8"/><path d="M469 218.0H471" stroke="#1a1a1a" stroke-width="1.1"/>
<path d="M472 216.9V219.20000000000002" stroke="#1a1a1a" stroke-width="0.8"/><path d="M471 218.0H473" stroke="#1a1a1a" stroke-width="1.1"/>
<path d="M478 216.9V219.20000000000002" stroke="#1a1a1a" stroke-width="0.8"/><path d="M477 218.0H479" stroke="#1a1a1a" stroke-width="1.1"/>
<path d="M486 216.9V219.20000000000002" stroke="#1a1a1a" stroke-width="0.8"/><path d="M485 218.0H487" stroke="#1a1a1a" stroke-width="1.1"/>
<path d="M490 216.9V219.20000000000002" stroke="#1a1a1a" stroke-width="0.8"/><path d="M489 218.0H491" stroke="#1a1a1a" stroke-width="1.1"/>
<path d="M498.8 216.9V219.20000000000002" stroke="#1a1a1a" stroke-width="0.8"/><path d="M497.8 218.0H499.8" stroke="#1a1a1a" stroke-width="1.1"/>
<path d="M400.9 214.8H409.2V215.5H410.3V219H411.5V225.8H425.4V229.3H431.1V231.6H438.1V236.2H444.4V239.7H453V242.6H498.8" fill="none" stroke="#f0b530" stroke-width="1.05"/>
<path d="M473 241.0V243.3" stroke="#1a1a1a" stroke-width="0.8"/><path d="M472 242.1H474" stroke="#1a1a1a" stroke-width="1.1"/>
<path d="M476 241.0V243.3" stroke="#1a1a1a" stroke-width="0.8"/><path d="M475 242.1H477" stroke="#1a1a1a" stroke-width="1.1"/>
<path d="M485 241.0V243.3" stroke="#1a1a1a" stroke-width="0.8"/><path d="M484 242.1H486" stroke="#1a1a1a" stroke-width="1.1"/>
<path d="M498.8 241.0V243.3" stroke="#1a1a1a" stroke-width="0.8"/><path d="M497.8 242.1H499.8" stroke="#1a1a1a" stroke-width="1.1"/>
<path d="M400.9 214.8H402.3V217.2H403.83V218.17H405.37V219.13H406.9V220.1H408.43V220.67H409.97V221.23H411.5V221.8H413.03V222.57H414.57V223.33H416.1V224.1H418.03V225.63H419.97V227.17H421.9V228.7H423.43V229.1H424.97V229.5H426.5V229.9H428.23V231.05H429.95V232.2H431.67V233.35H433.4V234.5H434.97V234.87H436.53V235.23H438.1V235.6H440.1V235.9H442.1V236.2H444.1V236.5H446.1V236.8H447.83V237.2H449.57V237.6H451.3V238.0H453.35V239.15H455.4V240.3H456.93V240.67H458.47V241.03H460.0V241.4H461.8V241.8H463.6V242.2H465.6V243.05H467.6V243.9H469.65V244.9H471.7V245.9H491.3V252.7H497.4" fill="none" stroke="#41609a" stroke-width="1.05"/>
<path d="M412 220.3V222.60000000000002" stroke="#1a1a1a" stroke-width="0.8"/><path d="M411 221.4H413" stroke="#1a1a1a" stroke-width="1.1"/>
<path d="M420 225.67V227.97" stroke="#1a1a1a" stroke-width="0.8"/><path d="M419 226.76999999999998H421" stroke="#1a1a1a" stroke-width="1.1"/>
<path d="M440 234.1V236.4" stroke="#1a1a1a" stroke-width="0.8"/><path d="M439 235.2H441" stroke="#1a1a1a" stroke-width="1.1"/>
<path d="M447 235.3V237.60000000000002" stroke="#1a1a1a" stroke-width="0.8"/><path d="M446 236.4H448" stroke="#1a1a1a" stroke-width="1.1"/>
<path d="M452 236.5V238.8" stroke="#1a1a1a" stroke-width="0.8"/><path d="M451 237.6H453" stroke="#1a1a1a" stroke-width="1.1"/>
<path d="M455 237.65V239.95000000000002" stroke="#1a1a1a" stroke-width="0.8"/><path d="M454 238.75H456" stroke="#1a1a1a" stroke-width="1.1"/>
<path d="M458 239.17V241.47" stroke="#1a1a1a" stroke-width="0.8"/><path d="M457 240.26999999999998H459" stroke="#1a1a1a" stroke-width="1.1"/>
<path d="M462 240.3V242.60000000000002" stroke="#1a1a1a" stroke-width="0.8"/><path d="M461 241.4H463" stroke="#1a1a1a" stroke-width="1.1"/>
<path d="M466 241.55V243.85000000000002" stroke="#1a1a1a" stroke-width="0.8"/><path d="M465 242.65H467" stroke="#1a1a1a" stroke-width="1.1"/>
<path d="M472 244.4V246.70000000000002" stroke="#1a1a1a" stroke-width="0.8"/><path d="M471 245.5H473" stroke="#1a1a1a" stroke-width="1.1"/>
<path d="M474 244.4V246.70000000000002" stroke="#1a1a1a" stroke-width="0.8"/><path d="M473 245.5H475" stroke="#1a1a1a" stroke-width="1.1"/>
<path d="M478 244.4V246.70000000000002" stroke="#1a1a1a" stroke-width="0.8"/><path d="M477 245.5H479" stroke="#1a1a1a" stroke-width="1.1"/>
<path d="M482 244.4V246.70000000000002" stroke="#1a1a1a" stroke-width="0.8"/><path d="M481 245.5H483" stroke="#1a1a1a" stroke-width="1.1"/>
<path d="M486 244.4V246.70000000000002" stroke="#1a1a1a" stroke-width="0.8"/><path d="M485 245.5H487" stroke="#1a1a1a" stroke-width="1.1"/>
<path d="M489 244.4V246.70000000000002" stroke="#1a1a1a" stroke-width="0.8"/><path d="M488 245.5H490" stroke="#1a1a1a" stroke-width="1.1"/>
<path d="M494 251.2V253.5" stroke="#1a1a1a" stroke-width="0.8"/><path d="M493 252.29999999999998H495" stroke="#1a1a1a" stroke-width="1.1"/>
<path d="M497.4 251.2V253.5" stroke="#1a1a1a" stroke-width="0.8"/><path d="M496.4 252.29999999999998H498.4" stroke="#1a1a1a" stroke-width="1.1"/>
<rect x="0" y="0" width="520" height="1" fill="#4d4d4d"/>
<rect x="2" y="1" width="516" height="1" fill="#a0a0a0"/>
<rect x="0" y="0" width="1" height="369" fill="#4a4a4a"/>
<rect x="1" y="1" width="1" height="367" fill="#5a5a5a"/>
<rect x="2" y="2" width="1" height="365" fill="#e0e0e0"/>
<rect x="2" y="367" width="516" height="1" fill="#9a9a9a"/>
<rect x="0" y="368" width="520" height="1" fill="#4a4a4a"/>
<rect x="518" y="1" width="1" height="367" fill="#8a8a8a"/>
<rect x="519" y="0" width="1" height="369" fill="#050505"/>
</svg>
</body></html>
